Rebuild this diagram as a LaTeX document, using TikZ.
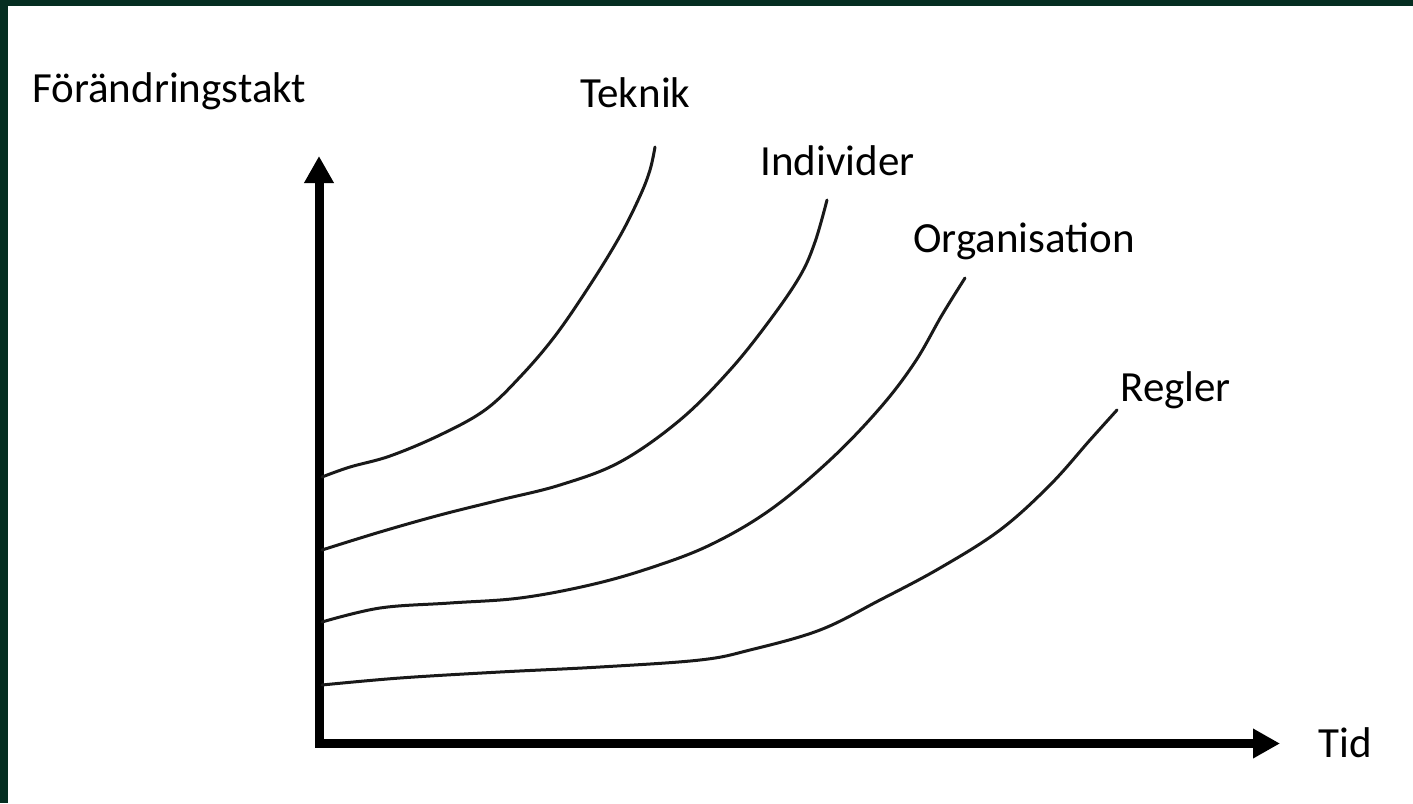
\documentclass[tikz,border=0pt]{standalone}
\usepackage{fontspec}
\setmainfont{Carlito}
\usetikzlibrary{arrows.meta}
\definecolor{frame}{RGB}{5,46,33}
\begin{document}
\begin{tikzpicture}[x=0.5pt,y=-0.5pt,
  lbl/.style={anchor=base west,inner sep=0pt,font=\fontsize{21.5pt}{26pt}\selectfont,text=black},
  axis/.style={line width=4.5pt,line join=miter,{Triangle[length=13.5pt,width=14pt]}-{Triangle[length=13.5pt,width=14pt]}},
  curve/.style={line width=1.5pt,line cap=round,line join=round,black!90}]
\useasboundingbox (0,0) rectangle (1413,803);
\fill[frame] (0,0) rectangle (1413,803);
\fill[white] (8,6) rectangle (1413,803);
% axes
\coordinate (ytop) at (319,156);
\coordinate (orig) at (319,743.5);
\coordinate (xend) at (1280,743.5);
\draw[axis] (ytop) -- (orig) -- (xend);
% curves
\draw[curve] plot[smooth,tension=0.6] coordinates {(322,477) (350,467) (390,456) (440,435) (485,410) (520,377) (555,336) (590,285) (620,236) (640,196) (650,170) (655,147)};
\draw[curve] plot[smooth,tension=0.6] coordinates {(322,550) (380,532) (440,515) (500,500) (560,485) (620,462) (680,420) (730,370) (770,320) (800,276) (815,242) (827,200)};
\draw[curve] plot[smooth,tension=0.6] coordinates {(322,622) (380,608) (450,603) (520,598) (590,585) (650,568) (710,545) (770,510) (830,460) (880,408) (915,362) (942,315) (965,278)};
\draw[curve] plot[smooth,tension=0.6] coordinates {(322,685) (400,678) (500,672) (600,667) (700,660) (750,650) (820,630) (880,600) (940,568) (1000,530) (1050,485) (1090,440) (1117,410)};
% labels
\node[lbl] (yl) at (32,102) {Förändringstakt};
\node[lbl] (xl) at (1318,757) {Tid};
\node[lbl] (tek) at (580,107) {Teknik};
\node[lbl] (ind) at (760,175) {Individer};
\node[lbl] (org) at (913,252) {Organisation};
\node[lbl] (reg) at (1120,401) {Regler};
\end{tikzpicture}
\end{document}
